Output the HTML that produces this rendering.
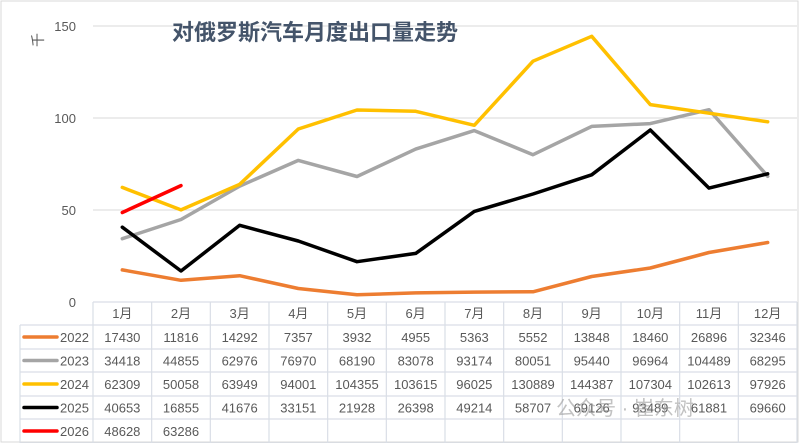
<!DOCTYPE html>
<html><head><meta charset="utf-8"><style>
body{margin:0;background:#fff;}
svg{display:block;font-family:"Liberation Sans","Noto Sans CJK SC",sans-serif;}
</style></head><body>
<svg id="c" width="799" height="443" viewBox="0 0 799 443"></svg>
<script>
const months=["1月","2月","3月","4月","5月","6月","7月","8月","9月","10月","11月","12月"];
const years=["2022","2023","2024","2025","2026"];
const colors=["#ED7D31","#A5A5A5","#FFC000","#000000","#FF0000"];
const s2022=[17430,11816,14292,7357,3932,4955,5363,5552,13848,18460,26896,32346];
const s2023=[34418,44855,62976,76970,68190,83078,93174,80051,95440,96964,104489,68295];
const s2024=[62309,50058,63949,94001,104355,103615,96025,130889,144387,107304,102613,97926];
const s2025=[40653,16855,41676,33151,21928,26398,49214,58707,69126,93489,61881,69660];
const s2026=[48628,63286];
const yTicks=[0,50,100,150];
const series=[s2022,s2023,s2024,s2025,s2026];
const NS="http://www.w3.org/2000/svg";
const svg=document.getElementById('c');
const L=93,R=797,cw=(R-L)/12;
const y0=302,pxPer=92/50000;
function xs(i){return L+cw*(i+0.5);}
function ys(v){return y0-v*pxPer;}
function el(t,a,p){const e=document.createElementNS(NS,t);for(const k in a)e.setAttribute(k,a[k]);(p||svg).appendChild(e);return e;}
const frame=el('rect',{x:1,y:1,width:797,height:441,fill:'none',stroke:'#D9D9D9','stroke-width':1});


yTicks.forEach(t=>{
  const yy=ys(t*1000);
  if(t>0){const g=el('line',{x1:L,x2:R,y1:yy,y2:yy,stroke:'#D9D9D9','stroke-width':1});
  
  }
  const tx=el('text',{x:76,y:yy+5,'text-anchor':'end','font-size':13,fill:'#595959'});tx.textContent=t;
  
  
});
const yt=el('text',{x:38,y:45,'font-size':14,fill:'#595959','text-anchor':'middle',transform:'rotate(-90 38 40)'});yt.textContent='千';


const title=el('text',{x:315,y:40,'font-size':22,'font-weight':'bold',fill:'#44546A','text-anchor':'middle'});title.textContent='对俄罗斯汽车月度出口量走势';


series.forEach((s,k)=>{
  const pts=s.map((v,i)=>xs(i).toFixed(1)+','+ys(v).toFixed(1)).join(' ');
  const pl=el('polyline',{points:pts,fill:'none',stroke:colors[k],'stroke-width':3.5,'stroke-linejoin':'round','stroke-linecap':'round'});
  
  
});
const rowTop=[302,325,349,372,396,419,443];
const gc='#D9DEE6';
for(let i=0;i<=12;i++){const x=L+cw*i;const ln=el('line',{x1:x,x2:x,y1:302,y2:443,stroke:gc,'stroke-width':1.2});

}
const lv=el('line',{x1:20,x2:20,y1:325,y2:443,stroke:gc,'stroke-width':1.2});


rowTop.forEach((y,r)=>{const ln=el('line',{x1:r==0?L:20,x2:R,y1:y,y2:y,stroke:gc,'stroke-width':1.2});

});
months.forEach((m,i)=>{const t=el('text',{x:xs(i),y:318,'text-anchor':'middle','font-size':13,fill:'#595959'});t.textContent=m;

});
series.forEach((s,k)=>{
  const cy=(rowTop[k+1]+rowTop[k+2])/2+5;
  const lk=el('line',{x1:24,x2:57,y1:cy-5,y2:cy-5,stroke:colors[k],'stroke-width':3.5,'stroke-linecap':'round'});
  
  
  const ly=el('text',{x:60,y:cy,'font-size':13,fill:'#595959'});ly.textContent=years[k];
  
  
  s.forEach((v,i)=>{const t=el('text',{x:xs(i),y:cy,'text-anchor':'middle','font-size':13,fill:'#595959'});t.textContent=v;
  
  });
});
const wm=el('text',{x:625,y:415,'font-size':20,fill:'#999','fill-opacity':0.6,'text-anchor':'middle'});wm.textContent='公众号 · 崔东树';


</script>
</body></html>
